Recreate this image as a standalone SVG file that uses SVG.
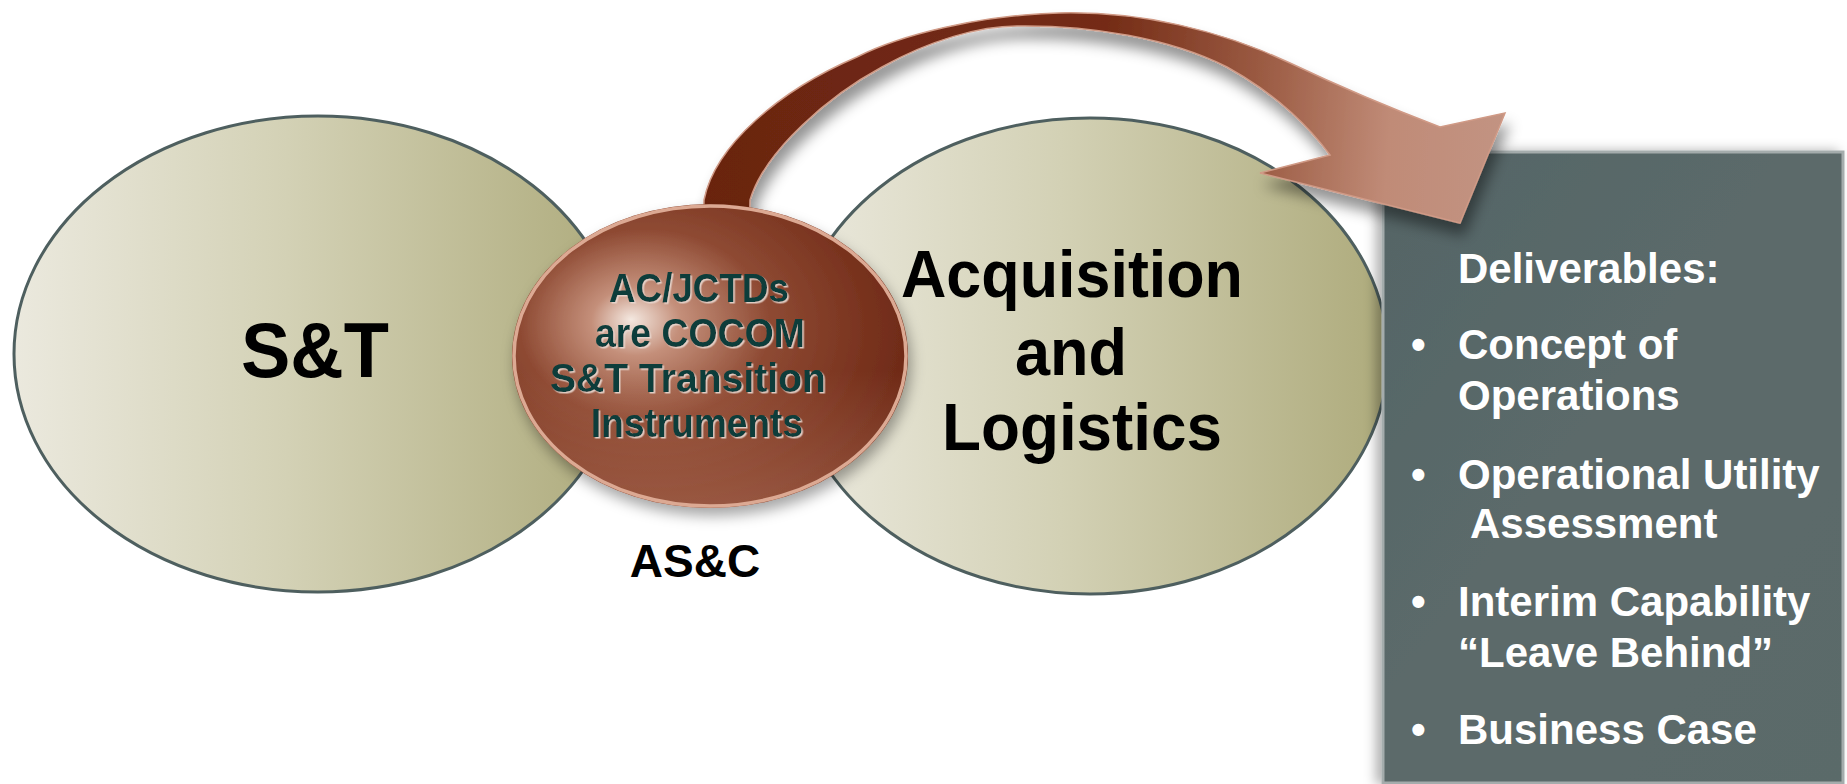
<svg xmlns="http://www.w3.org/2000/svg" width="1847" height="784" viewBox="0 0 1847 784">
  <defs>
    <linearGradient id="gEll" x1="0" y1="0" x2="1" y2="0">
      <stop offset="0" stop-color="#ebe9de"/>
      <stop offset="0.45" stop-color="#d3d1b5"/>
      <stop offset="1" stop-color="#aeab7c"/>
    </linearGradient>
    <radialGradient id="gBall" cx="0.38" cy="0.42" r="0.7" fx="0.3" fy="0.38">
      <stop offset="0" stop-color="#f4e8e0"/>
      <stop offset="0.16" stop-color="#c48f7a"/>
      <stop offset="0.45" stop-color="#8e4a33"/>
      <stop offset="0.8" stop-color="#76301c"/>
      <stop offset="1" stop-color="#672614"/>
    </radialGradient>
    <linearGradient id="gBallBottom" x1="0" y1="0" x2="0" y2="1">
      <stop offset="0.55" stop-color="#b87a62" stop-opacity="0"/>
      <stop offset="1" stop-color="#b87a62" stop-opacity="0.55"/>
    </linearGradient>
    <linearGradient id="gArrow" gradientUnits="userSpaceOnUse" x1="700" y1="100" x2="1500" y2="160">
      <stop offset="0" stop-color="#6a2410"/>
      <stop offset="0.5" stop-color="#742c16"/>
      <stop offset="0.7" stop-color="#9c5c44"/>
      <stop offset="0.86" stop-color="#c08b77"/>
      <stop offset="1" stop-color="#c29382"/>
    </linearGradient>
    <linearGradient id="gBox" x1="0" y1="0" x2="1" y2="1">
      <stop offset="0" stop-color="#546465"/>
      <stop offset="0.5" stop-color="#5c6b6b"/>
      <stop offset="1" stop-color="#5a6a69"/>
    </linearGradient>
    <filter id="shadow" x="-20%" y="-20%" width="140%" height="150%">
      <feDropShadow dx="3" dy="8" stdDeviation="7" flood-color="#000" flood-opacity="0.35"/>
    </filter>
    <filter id="arrowShadow" x="-20%" y="-30%" width="140%" height="170%">
      <feDropShadow dx="4" dy="12" stdDeviation="7" flood-color="#000" flood-opacity="0.42"/>
    </filter>
    <filter id="boxShadow" x="-10%" y="-10%" width="120%" height="120%">
      <feDropShadow dx="-6" dy="0" stdDeviation="6" flood-color="#000" flood-opacity="0.3"/>
    </filter>
    <filter id="txtShadow" x="-5%" y="-20%" width="110%" height="140%">
      <feDropShadow dx="1.5" dy="1.5" stdDeviation="0.4" flood-color="#e8d8d0" flood-opacity="0.9"/>
    </filter>
    <style>
      .ell { fill: url(#gEll); stroke: #4e5f5f; stroke-width: 3; }
      .big { font-family: "Liberation Sans", Arial, sans-serif; font-weight: bold; fill: #000; text-anchor: middle; }
      .ball { font-family: "Liberation Sans", Arial, sans-serif; font-weight: bold; fill: #083d3a; font-size: 40px; text-anchor: middle; }
      .del { font-family: "Liberation Sans", Arial, sans-serif; font-weight: bold; fill: #ffffff; font-size: 42px; }
    </style>
  </defs>

  <rect width="1847" height="784" fill="#ffffff"/>

  <g id="node-st">
    <ellipse class="ell" cx="318" cy="354" rx="304" ry="238"/>
    <text class="big" x="315" y="377" font-size="78" textLength="148" lengthAdjust="spacingAndGlyphs">S&amp;T</text>
  </g>

  <g id="node-acq">
    <ellipse class="ell" cx="1090" cy="356" rx="298" ry="238"/>
    <text class="big" x="1072" y="297" font-size="67" textLength="342" lengthAdjust="spacingAndGlyphs">Acquisition</text>
    <text class="big" x="1071" y="375" font-size="67" textLength="112" lengthAdjust="spacingAndGlyphs">and</text>
    <text class="big" x="1082" y="450" font-size="67" textLength="280" lengthAdjust="spacingAndGlyphs">Logistics</text>
  </g>

  <g id="node-deliverables">
    <rect x="1383" y="152" width="460" height="631" fill="url(#gBox)" stroke="#a4acac" stroke-width="3" filter="url(#boxShadow)"/>
    <text class="del" x="1458" y="283">Deliverables:</text>
    <text class="del" x="1411" y="359">•</text>
    <text class="del" x="1458" y="359">Concept of</text>
    <text class="del" x="1458" y="410">Operations</text>
    <text class="del" x="1411" y="489">•</text>
    <text class="del" x="1458" y="489">Operational Utility</text>
    <text class="del" x="1470" y="538">Assessment</text>
    <text class="del" x="1411" y="616">•</text>
    <text class="del" x="1458" y="616">Interim Capability</text>
    <text class="del" x="1458" y="667">“Leave Behind”</text>
    <text class="del" x="1411" y="744">•</text>
    <text class="del" x="1458" y="744">Business Case</text>
  </g>

  <g id="connectors">
    <path d="M 703,240 L 704,200 C 715,145 780,90 857,57 C 900,35 980,15 1059,13 C 1140,11 1220,30 1290,63 C 1330,82 1390,108 1440,127 L 1505,113 L 1460,223 L 1260,173 L 1330,155 C 1300,115 1265,88 1227,67 C 1170,38 1090,25 1017,26 C 980,26 930,40 882,67 C 830,95 765,150 750,200 L 749,240 Z" fill="url(#gArrow)" stroke="#d09a86" stroke-width="1.5" stroke-linejoin="miter" filter="url(#arrowShadow)"/>
  </g>

  <g id="node-asc">
    <ellipse cx="710" cy="356" rx="198" ry="152" fill="url(#gBall)" filter="url(#shadow)"/>
    <ellipse cx="710" cy="356" rx="198" ry="152" fill="url(#gBallBottom)"/>
    <ellipse cx="710" cy="356" rx="196" ry="150" fill="none" stroke="#dca993" stroke-width="3.5"/>
    <g filter="url(#txtShadow)">
      <text class="ball" x="699" y="302" textLength="180" lengthAdjust="spacingAndGlyphs">AC/JCTDs</text>
      <text class="ball" x="700" y="347" textLength="210" lengthAdjust="spacingAndGlyphs">are COCOM</text>
      <text class="ball" x="688" y="392" textLength="276" lengthAdjust="spacingAndGlyphs">S&amp;T Transition</text>
      <text class="ball" x="697" y="437" textLength="212" lengthAdjust="spacingAndGlyphs">Instruments</text>
    </g>
    <text class="big" x="695" y="577" font-size="46">AS&amp;C</text>
  </g>
</svg>
